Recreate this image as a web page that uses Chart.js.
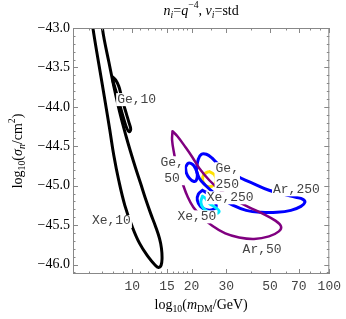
<!DOCTYPE html>
<html lang="en">
<head>
<meta charset="UTF-8">
<title>Contours n_i = q^-4</title>
<script src="https://cdn.jsdelivr.net/npm/chart.js"></script>
<style>
  body { margin: 0; background: #fff; }
</style>
</head>
<body>
<canvas id="chart" width="346" height="319"></canvas>
<script>
// x values are log10(m_DM/GeV), y values are log10(sigma_n/cm^2)
const xTickMasses = [10, 15, 20, 30, 50, 70, 100];
const xMinorMasses = [6, 7, 8, 9, 11, 12, 13, 14, 16, 17, 18, 19, 25, 40, 60, 80, 90];
const yTicks = [-46, -45.5, -45, -44.5, -44, -43.5, -43];

const xe10 = [[0.795,-42.873],[0.800,-43.0],[0.830,-43.457],[0.861,-43.915],[0.886,-44.296],[0.906,-44.614],
  [0.931,-44.931],[0.962,-45.249],[0.997,-45.503],[1.037,-45.732],[1.083,-45.910],[1.113,-45.999],[1.133,-46.037],
  [1.146,-46.011],[1.151,-45.922],[1.148,-45.795],[1.138,-45.668],[1.118,-45.516],[1.093,-45.351],[1.068,-45.173],
  [1.042,-44.970],[1.017,-44.779],[0.992,-44.576],[0.967,-44.360],[0.936,-44.067],[0.906,-43.737],[0.881,-43.432],
  [0.858,-43.152],[0.848,-43.0],[0.843,-42.873]];
const ge10 = [[0.901,-43.623],[0.916,-43.661],[0.931,-43.737],[0.941,-43.826],[0.954,-43.953],[0.969,-44.080],
  [0.984,-44.207],[0.992,-44.283],[0.984,-44.315],[0.972,-44.271],[0.957,-44.156],[0.941,-44.017],[0.926,-43.877],
  [0.911,-43.750],[0.901,-43.661]];
const ar50 = [[1.204,-44.309],[1.229,-44.372],[1.270,-44.512],[1.305,-44.639],[1.340,-44.779],[1.391,-44.931],
  [1.452,-45.071],[1.517,-45.173],[1.593,-45.274],[1.669,-45.363],[1.724,-45.440],[1.755,-45.516],[1.744,-45.579],
  [1.694,-45.643],[1.618,-45.675],[1.542,-45.656],[1.472,-45.605],[1.406,-45.509],[1.351,-45.389],[1.310,-45.274],
  [1.280,-45.135],[1.255,-44.969],[1.229,-44.779],[1.212,-44.588],[1.202,-44.423]];
const ar250 = [[1.325,-44.804],[1.335,-44.664],[1.351,-44.601],[1.376,-44.601],[1.406,-44.652],[1.431,-44.715],
  [1.482,-44.804],[1.553,-44.906],[1.623,-44.982],[1.694,-45.058],[1.770,-45.109],[1.830,-45.147],[1.866,-45.173],
  [1.876,-45.211],[1.856,-45.262],[1.805,-45.313],[1.734,-45.338],[1.654,-45.338],[1.578,-45.313],[1.512,-45.249],
  [1.462,-45.173],[1.411,-45.084],[1.371,-44.995],[1.340,-44.906]];
const ge50 = [[1.270,-44.766],[1.285,-44.715],[1.305,-44.728],[1.320,-44.779],[1.330,-44.855],[1.325,-44.931],
  [1.310,-44.944],[1.290,-44.906],[1.275,-44.842]];
const ge250 = [[1.391,-44.820],[1.371,-44.842],[1.358,-44.890],[1.358,-44.944],[1.371,-44.992],[1.391,-45.012],
  [1.413,-44.992],[1.426,-44.931],[1.416,-44.860]];
const xe250 = [[1.356,-45.058],[1.335,-45.109],[1.330,-45.186],[1.346,-45.262],[1.376,-45.306],[1.411,-45.300],
  [1.426,-45.249],[1.406,-45.173],[1.381,-45.097]];
const xe50 = [[1.356,-45.135],[1.348,-45.211],[1.361,-45.287],[1.391,-45.338],[1.426,-45.351],[1.441,-45.325],
  [1.421,-45.274],[1.391,-45.224],[1.371,-45.160]];

const labelText = ['Ge,10', 'Xe,10', 'Ge,\n50', 'Ge,\n250', 'Xe,250', 'Ar,250', 'Xe,50', 'Ar,50'];
const labelX = [1.022, 0.894, 1.202, 1.482, 1.497, 1.833, 1.328, 1.659];
const labelY = [-43.902, -45.448, -44.804, -44.880, -45.147, -45.046, -45.389, -45.808];

function contour(pts, color, width, closed) {
  const d = pts.map(p => ({ x: p[0], y: p[1] }));
  if (closed) d.push(d[0]);
  return {
    data: d, showLine: true, borderColor: color, borderWidth: width, pointRadius: 0,
    tension: 0.4, fill: false, borderCapStyle: 'round', borderJoinStyle: 'round'
  };
}

const serif = 'Liberation Serif';
const mono = 'Liberation Mono';

function drawRuns(ctx, runs, cx, cy, size) {
  let total = 0;
  runs.forEach(r => {
    const s = (r.sub || r.sup) ? size * 0.7 : size;
    r.font = (r.it ? 'italic ' : '') + s + 'px "' + serif + '"';
    ctx.font = r.font;
    r.w = ctx.measureText(r.t).width;
    total += r.w;
  });
  let x = cx - total / 2;
  runs.forEach(r => {
    ctx.font = r.font;
    const dy = r.sub ? size * 0.3 : (r.sup ? -size * 0.38 : 0);
    ctx.fillText(r.t, x, cy + dy);
    x += r.w;
  });
}

const titleRuns = [{t:'n',it:1},{t:'i',it:1,sub:1},{t:'='},{t:'q',it:1},{t:'\u22124',sup:1},{t:', '},
  {t:'\u03bd',it:1},{t:'i',it:1,sub:1},{t:'=std'}];
const xTitleRuns = [{t:'log'},{t:'10',sub:1},{t:'('},{t:'m',it:1},{t:'DM',sub:1},{t:'/GeV)'}];
const yTitleRuns = [{t:'log'},{t:'10',sub:1},{t:'('},{t:'\u03c3',it:1},{t:'n',it:1,sub:1},{t:'/cm'},{t:'2',sup:1},{t:')'}];

const framePlugin = {
  id: 'frame',
  afterDatasetsDraw(chart) {
    const { ctx, chartArea: a, scales: { x, y } } = chart;
    ctx.save();
    // contour labels with white boxes
    ctx.font = '13px "' + mono + '"';
    ctx.textAlign = 'center';
    ctx.textBaseline = 'middle';
    labelText.forEach((txt, i) => {
      const lines = txt.split('\n');
      const px = x.getPixelForValue(labelX[i]);
      const py = y.getPixelForValue(labelY[i]);
      const lh = 16;
      const w = Math.max(...lines.map(l => ctx.measureText(l).width));
      const h = lines.length * lh;
      ctx.fillStyle = '#fff';
      ctx.fillRect(px - w / 2 - 1, py - h / 2 + 2, w + 2, h - 3);
      ctx.fillStyle = '#444';
      lines.forEach((l, k) => ctx.fillText(l, px, py - h / 2 + lh / 2 + k * lh));
    });

    // frame and inward ticks
    ctx.strokeStyle = '#888';
    ctx.lineWidth = 1;
    ctx.strokeRect(a.left + 0.5, a.top + 0.5, a.width - 1, a.height - 1);
    ctx.beginPath();
    const xt = (m, len) => {
      const px = Math.round(x.getPixelForValue(Math.log10(m))) + 0.5;
      ctx.moveTo(px, a.bottom); ctx.lineTo(px, a.bottom - len);
      ctx.moveTo(px, a.top); ctx.lineTo(px, a.top + len);
    };
    xTickMasses.forEach(m => xt(m, 5));
    xMinorMasses.forEach(m => xt(m, 2.5));
    for (let k = 0; k <= 31; k++) {
      const v = -46.1 + k * 0.1;
      const major = yTicks.some(t => Math.abs(t - v) < 1e-6);
      const len = major ? 5 : 2.5;
      const py = Math.round(y.getPixelForValue(v)) + 0.5;
      ctx.moveTo(a.left, py); ctx.lineTo(a.left + len, py);
      ctx.moveTo(a.right, py); ctx.lineTo(a.right - len, py);
    }
    ctx.stroke();

    // titles with sub/superscripts
    ctx.fillStyle = '#000';
    ctx.textAlign = 'left';
    drawRuns(ctx, titleRuns, (a.left + a.right) / 2, 11, 14);
    drawRuns(ctx, xTitleRuns, (a.left + a.right) / 2, 305, 14);
    ctx.translate(18, (a.top + a.bottom) / 2);
    ctx.rotate(-Math.PI / 2);
    drawRuns(ctx, yTitleRuns, 0, 0, 14);
    ctx.restore();
  }
};

new Chart(document.getElementById('chart'), {
  type: 'scatter',
  data: {
    datasets: [
      contour(xe10, '#000', 3, false),
      contour(ge10, '#000', 3, true),
      contour(ar50, '#800080', 2.5, true),
      contour(xe50, '#00e8ff', 3, true),
      contour(ar250, '#0000ff', 3, true),
      contour(ge50, '#0000ff', 3, true),
      contour(xe250, '#0000ff', 3, true),
      contour(ge250, 'rgb(255,225,0)', 3, true)
    ]
  },
  options: {
    responsive: false,
    animation: false,
    layout: { padding: { top: 28, right: 15, left: 0, bottom: 0 } },
    plugins: { legend: { display: false }, tooltip: { enabled: false } },
    scales: {
      x: {
        type: 'linear',
        min: Math.log10(5),
        max: 2,
        afterBuildTicks: s => { s.ticks = xTickMasses.map(m => ({ value: Math.log10(m) })); },
        afterFit: s => { s.height = 45; },
        grid: { display: false, drawTicks: false },
        border: { display: false },
        ticks: {
          autoSkip: false, maxRotation: 0, padding: 5, color: '#444',
          font: { family: mono, size: 13 },
          callback: (v, i) => xTickMasses[i]
        }
      },
      y: {
        type: 'linear',
        min: -46.12,
        max: -43,
        afterBuildTicks: s => { s.ticks = yTicks.map(v => ({ value: v })); },
        afterFit: s => { s.width = 73; },
        grid: { display: false, drawTicks: false },
        border: { display: false },
        ticks: {
          autoSkip: false, padding: 3, color: '#000',
          font: { family: serif, size: 14 },
          callback: v => '\u2212' + Math.abs(v).toFixed(1)
        }
      }
    }
  },
  plugins: [framePlugin]
});
</script>
</body>
</html>
